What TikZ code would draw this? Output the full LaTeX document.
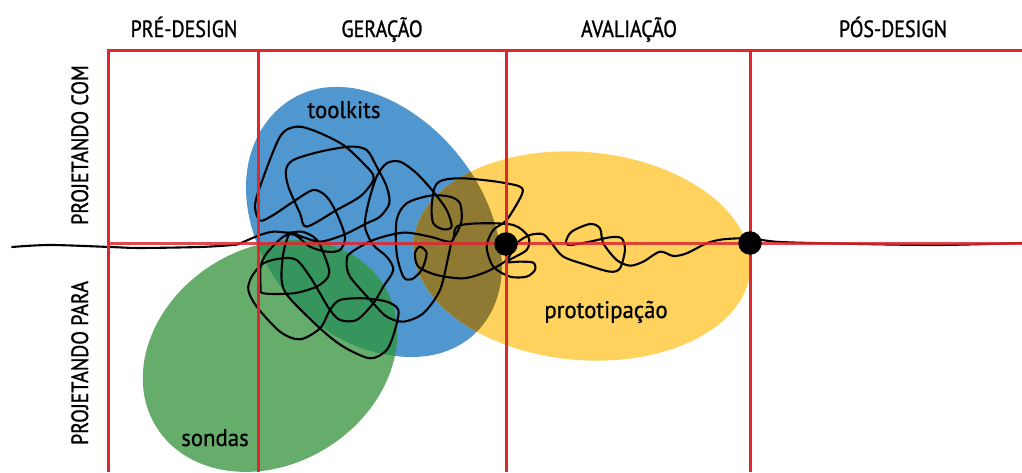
\documentclass[tikz,border=0pt]{standalone}
\usepackage{xcolor}
\usepackage{fontspec}
\setmainfont{PT Sans}
\newfontfamily\headfont[FakeStretch=0.85, FakeBold=1.1]{PT Sans}
\newfontfamily\blobfont[FakeStretch=0.95, FakeBold=0.8]{PT Sans}
\usepackage{tikz}
\usetikzlibrary{positioning, calc}
\definecolor{gridred}{HTML}{DD2830}
\definecolor{toolblue}{HTML}{4F97CE}
\definecolor{protoyellow}{HTML}{FFD25E}
\definecolor{probegreen}{HTML}{66AD6C}
\definecolor{bluegreen}{HTML}{35955C}
\definecolor{blueyellow}{HTML}{8F7A34}

\begin{document}
\begin{tikzpicture}[x=1pt, y=-1pt,
        every node/.style={font=\headfont\fontsize{23.5}{26}\selectfont},
        header/.style={anchor=base, text=black},
        side/.style={rotate=90, anchor=base, text=black},
        blob/.style={anchor=base, text=black, font=\blobfont\fontsize{24}{26}\selectfont},
        gridline/.style={draw=gridred, line width=3pt},
        dot/.style={circle, fill=black, inner sep=0pt, minimum size=23.5pt},
        squiggle/.style={black, line width=2.1pt, line join=round, line cap=round}]

      \useasboundingbox (0,0) rectangle (1022,472);
      \clip (0,0) rectangle (1022,472);

      % the three regions and their overlaps
      \path[save path=\toolpath] (335,87)
        .. controls (405,85) and (497,165) .. (502,265)
        .. controls (502,320) and (465,357) .. (412,357)
        .. controls (320,357) and (246,270) .. (246,187)
        .. controls (246,130) and (285,87) .. (335,87) -- cycle;
      \fill[toolblue, use path=\toolpath];
      \fill[protoyellow] (582,256) ellipse [x radius=169, y radius=104, rotate=-5];
      \fill[probegreen] (270,356) ellipse [x radius=134, y radius=108, rotate=32];
      \begin{scope}
        \path[clip, use path=\toolpath];
        \fill[bluegreen] (270,356) ellipse [x radius=134, y radius=108, rotate=32];
        \fill[blueyellow] (582,256) ellipse [x radius=169, y radius=104, rotate=-5];
      \end{scope}

      % the line that tangles up and then settles down
      \begin{scope}[shift={(230,80)}, x=0.3333pt, y=-0.3333pt]
        \draw[squiggle] plot[smooth, tension=0.5] coordinates {
          (-654,501) (-540,495) (-360,501) (-270,504) (-90,501) (9,495)
          (30,490) (90,465) (130,455) (175,458) (215,455) (250,470) (270,495)
          (295,560) (295,590) (260,620) (190,640) (100,640) (92,620) (92,560)
          (110,520) (160,470) (195,465) (240,500) (290,515) (330,510) (345,470)
          (320,400) (290,350) (250,330) (190,365) (130,405) (90,422) (75,380)
          (90,320) (150,170) (200,140) (260,155) (340,195) (400,250) (430,285)
          (425,310) (390,350) (320,390) (230,440) (210,400) (175,320) (168,270)
          (190,240) (270,215) (360,200) (410,210) (440,260) (470,320) (478,370)
          (450,410) (410,430) (340,465) (270,485) (215,470) (180,460) (160,520)
          (155,600) (175,650) (270,745) (340,800) (420,835) (470,810) (495,750)
          (505,690) (470,665) (400,655) (330,660) (300,690) (270,745) (210,778)
          (150,755) (80,680) (55,630) (65,590) (100,550) (155,535) (200,540)
          (240,590) (270,640) (300,690) (330,720) (380,720) (430,670) (460,620)
          (490,570) (470,530) (430,495) (405,440) (415,370) (440,290) (470,250)
          (510,245) (560,280) (610,335) (650,390) (665,440) (640,448) (610,430)
          (605,380) (615,320) (640,300) (700,295) (800,305) (870,320) (875,345)
          (830,420) (790,450) (770,500) (790,560) (840,590) (890,590) (915,570)
          (910,548) (870,545) (830,545) (890,510) (895,470) (850,435) (750,430)
          (680,440) (665,485) (600,470) (520,458) (430,480) (360,520) (350,545)
          (360,590) (430,670) (470,710) (520,725) (580,700) (630,630) (655,530)
          (665,485) (680,460) (695,420) (690,370) (660,350) (600,347) (530,370)
          (500,420) (500,520) (520,590) (545,598) (575,570) (590,520) (570,500)
          (555,520) (565,560) (620,585) (700,595) (770,575) (830,540) (860,490)
          (900,465) (940,463) (965,490) (1000,530) (1070,555) (1140,575) (1170,565)
          (1185,510) (1175,475) (1140,472) (1080,485) (1020,495) (1008,485)
          (1025,455) (1080,432) (1110,445) (1120,490) (1160,540) (1200,557)
          (1240,545) (1290,515) (1330,528) (1370,520) (1430,490) (1480,478)
          (1560,475) (1650,486) (1890,492) (2130,495) (2376,489)};
      \end{scope}

      % grid of phases and attitudes
      \foreach \xpos in {108,258,506,750}
        \draw[gridline] (\xpos,50) -- (\xpos,472);
      \draw[gridline] (106.5,50) -- (1022,50);
      \draw[gridline, opacity=0.85] (108,243.5) -- (1022,243.5);

      \node[dot] (gateA) at (506,244) {};
      \node[dot] (gateB) at (750,243) {};

      \node[header] (pre) at (184,37) {PRÉ-DESIGN};
      \node[header] (gen) at (382,37) {GERAÇÃO};
      \node[header] (eval) at (629,37) {AVALIAÇÃO};
      \node[header] (post) at (893,37) {PÓS-DESIGN};
      \node[side] (with) at (88,145) {PROJETANDO COM};
      \node[side] (for) at (88,363) {PROJETANDO PARA};

      \node[blob] (toolkits) at (344,118) {toolkits};
      \node[blob] (proto) at (606,318) {prototipação};
      \node[blob] (probes) at (215,446) {sondas};
    \end{tikzpicture}
\end{document}
